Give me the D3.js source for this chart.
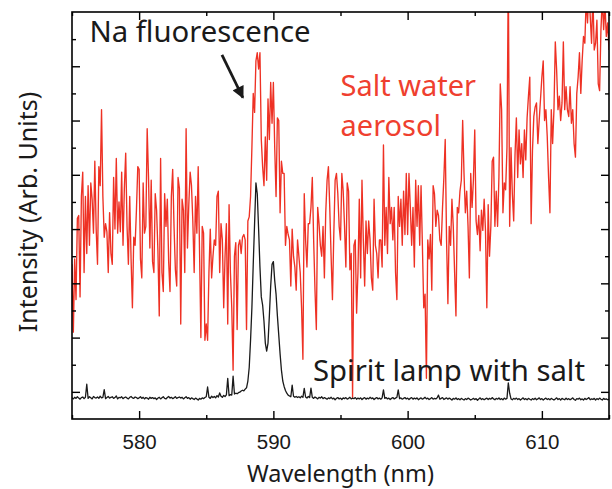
<!DOCTYPE html>
<html>
<head>
    <meta charset="UTF-8">
    <style>
        *{
            margin: 0;
            padding: 0;
        }
        body{
            background-color: #fff;
        }
        .frame {
            fill: none;
            stroke: #000;
            stroke-width: 1.6px;
        }
        .axis path {
            display: none;
        }
        .axis line {
            stroke: #000;
            stroke-width: 1.4px;
        }
        .axis text {
            font-family: "Liberation Sans", Arial, sans-serif;
            font-size: 20.5px;
            fill: #1a1a1a;
        }
        .label {
            font-family: "Noto Sans", sans-serif;
            fill: #1a1a1a;
        }
    </style>
    <script src="https://cdn.jsdelivr.net/npm/d3@7"></script>
    <title>Na fluorescence</title>
</head>

<body>
<svg id="chart" width="612" height="489"></svg>
<script>
    // wavelength sampling of both spectra (nm)
    var wlStart = 575, wlStep = 0.1;

    // salt water aerosol spectrum, one row per nm
    var aerosol = [
        5.7, 3.2, 5.9, 4.4, 7.4, 7.5, 4.5, 8.2, 9.1, 5.4,
        8.2, 6.1, 8.6, 6.4, 8.7, 8.1, 6.85, 9.5, 7.0, 5.7,
        9.3, 8.6, 11.4, 8.2, 6.7, 7.2, 6.9, 5.4, 7.6, 6.1,
        5.7, 8.9, 7.0, 9.6, 6.85, 8.0, 6.9, 9.1, 6.4, 8.5,
        9.8, 7.1, 5.7, 8.2, 5.9, 4.1, 6.7, 6.4, 7.7, 9.3,
        9.2, 5.9, 5.2, 8.7, 6.85, 7.1, 10.7, 8.9, 6.3, 8.8,
        5.8, 5.4, 8.3, 7.7, 6.2, 3.8, 9.6, 5.4, 4.7, 8.3,
        7.1, 8.1, 5.8, 4.7, 8.2, 9.2, 7.1, 5.5, 4.9, 8.9,
        8.5, 3.5, 8.1, 7.7, 5.4, 10.7, 6.3, 7.9, 9.1, 8.6,
        7.3, 5.4, 8.2, 6.85, 9.3, 6.2, 3.0, 7.1, 6.85, 2.9,
        3.5, 2.9, 5.4, 7.0, 5.2, 6.0, 6.6, 6.4, 8.2, 8.4,
        5.4, 7.2, 6.6, 4.1, 6.0, 7.2, 3.5, 7.9, 5.4, 4.1,
        1.8, 6.0, 6.5, 3.3, 6.4, 6.6, 6.1, 6.7, 6.8, 6.6,
        3.3, 7.3, 7.45, 8.2, 10.0, 12.0, 11.3, 13.2, 13.5, 12.9,
        13.5, 10.3, 9.3, 8.6, 10.4, 8.8, 11.8, 10.3, 12.4, 10.9,
        12.4, 10.0, 8.2, 11.1, 11.0, 7.6, 9.5, 9.05, 9.05, 6.4,
        7.1, 6.8, 6.6, 4.9, 7.0, 6.0, 5.6, 4.75, 6.6, 6.0,
        5.4, 4.1, 2.2, 8.3, 6.6, 5.6, 7.2, 7.2, 7.8, 8.9,
        6.6, 4.75, 3.3, 7.8, 7.2, 6.4, 6.0, 7.1, 5.2, 7.6,
        8.8, 9.3, 7.8, 6.0, 4.4, 6.8, 8.8, 9.05, 8.3, 7.1,
        6.6, 9.05, 8.4, 7.1, 5.6, 8.7, 8.4, 5.5, 6.1, 0.8,
        6.4, 6.6, 3.9, 5.4, 8.1, 5.2, 8.8, 6.6, 4.9, 7.3,
        6.1, 7.3, 6.6, 5.2, 4.75, 8.1, 6.4, 6.1, 5.2, 6.6,
        6.6, 5.6, 10.1, 6.4, 7.8, 6.1, 8.9, 7.2, 7.8, 6.6,
        7.8, 5.4, 4.4, 8.2, 7.1, 8.1, 6.4, 8.4, 6.8, 9.05,
        6.8, 9.05, 7.8, 6.4, 7.8, 5.6, 8.8, 7.1, 8.6, 6.4,
        8.6, 6.4, 4.1, 4.6, 1.5, 6.6, 5.9, 6.8, 4.75, 8.6,
        8.3, 7.1, 7.7, 7.5, 6.6, 6.4, 7.8, 8.9, 10.3, 6.6,
        4.25, 7.1, 6.4, 8.1, 7.1, 5.4, 3.8, 7.8, 7.6, 8.4,
        8.8, 11.0, 9.05, 7.6, 8.4, 7.1, 5.2, 9.05, 7.8, 8.8,
        10.65, 7.3, 6.8, 7.5, 6.2, 7.7, 6.95, 8.1, 6.95, 4.1,
        7.9, 6.0, 7.1, 9.5, 9.65, 7.1, 8.4, 7.1, 8.9, 12.35,
        11.4, 7.6, 8.7, 8.45, 10.0, 16.5, 7.1, 10.0, 8.3, 7.3,
        9.75, 11.1, 8.9, 10.65, 9.4, 10.15, 8.9, 10.65, 9.55, 11.1,
        11.9, 12.6, 7.2, 9.9, 11.15, 11.5, 11.65, 10.15, 11.0, 11.8,
        12.6, 13.2, 11.0, 11.4, 10.4, 8.9, 7.6, 11.4, 10.15, 11.4,
        13.9, 12.85, 11.4, 11.9, 11.0, 11.65, 13.9, 11.4, 12.25, 11.4,
        11.15, 12.25, 10.9, 11.4, 10.15, 9.65, 12.0, 12.6, 13.5, 12.0,
        13.2, 14.1, 13.85, 15.5, 14.6, 15.8, 14.85, 13.85, 15.6, 13.6,
        13.85, 14.7, 12.35, 12.1, 14.35, 15.5, 14.35, 15.3, 14.1, 14.6,
        13.6
    ];

    // spirit lamp with salt spectrum, one row per nm
    var lamp = [
        0.78, 0.74, 0.80, 0.76, 0.82, 0.77, 0.73, 0.79, 0.81, 0.75,
        0.80, 1.28, 0.76, 0.82, 0.78, 0.74, 0.83, 0.79, 0.77, 0.81,
        0.76, 0.84, 0.78, 0.80, 1.08, 0.75, 0.79, 0.83, 0.77, 0.80,
        0.82, 0.76, 0.79, 0.85, 0.74, 0.80, 0.78, 0.82, 0.75, 0.79,
        0.81, 0.77, 0.74, 0.80, 0.83, 0.78, 0.76, 0.81, 0.79, 0.75,
        0.78, 0.82, 0.76, 0.80, 0.74, 0.79, 0.77, 0.73, 0.80, 0.76,
        0.79, 0.75, 0.78, 0.72, 0.77, 0.80, 0.74, 0.78, 0.82, 0.76,
        0.74, 0.79, 0.83, 0.77, 0.80, 0.75, 0.78, 0.82, 0.76, 0.79,
        0.81, 0.77, 0.80, 0.74, 0.78, 0.82, 0.76, 0.79, 0.73, 0.78,
        0.75, 0.72, 0.77, 0.74, 0.70, 0.76, 0.73, 0.78, 0.75, 0.79,
        0.82, 1.18, 0.80, 0.76, 0.84, 0.79, 0.83, 0.78, 0.86, 0.81,
        0.96, 0.84, 0.80, 0.87, 0.83, 0.89, 1.50, 0.86, 0.90, 0.88,
        1.58, 0.92, 0.95, 0.93, 0.97, 0.99, 1.03, 1.06, 1.04, 1.10,
        1.15, 1.40, 1.90, 2.90, 4.10, 5.70, 7.20, 8.70, 8.30, 7.00,
        5.60, 4.50, 4.20, 3.60, 2.80, 2.50, 2.80, 3.80, 4.90, 5.70,
        5.80, 5.10, 4.60, 3.80, 3.10, 2.40, 1.80, 1.40, 1.20, 1.05,
        0.95, 0.88, 0.85, 0.82, 1.25, 0.84, 0.80, 0.83, 0.79, 0.82,
        0.78, 0.84, 0.80, 1.13, 0.81, 0.77, 0.83, 0.79, 1.14, 0.80,
        0.76, 0.81, 0.78, 0.74, 0.80, 0.77, 0.82, 0.75, 0.79, 0.76,
        0.73, 0.78, 0.75, 0.80, 0.74, 0.77, 0.71, 0.76, 0.79, 0.74,
        0.77, 0.72, 0.78, 0.75, 0.79, 0.73, 0.76, 0.80, 0.74, 0.77,
        0.75, 0.79, 0.73, 0.77, 0.74, 0.78, 0.72, 0.76, 0.79, 0.73,
        0.77, 0.74, 0.80, 0.75, 0.78, 0.72, 0.76, 0.79, 0.74, 0.77,
        0.73, 0.78, 1.07, 0.76, 0.79, 0.74, 0.77, 0.72, 0.76, 0.79,
        0.74, 0.77, 0.80, 1.07, 0.75, 0.78, 0.73, 0.76, 0.79, 0.74,
        0.77, 0.72, 0.76, 0.79, 0.73, 0.77, 0.74, 0.78, 0.71, 0.75,
        0.78, 0.73, 0.76, 0.80, 0.74, 0.77, 0.72, 0.75, 0.79, 0.73,
        0.76, 0.74, 0.78, 0.88, 0.73, 0.76, 0.79, 0.72, 0.75, 0.78,
        0.73, 0.77, 0.74, 0.70, 0.76, 0.73, 0.78, 0.72, 0.75, 0.71,
        0.76, 0.73, 0.70, 0.75, 0.72, 0.77, 0.74, 0.70, 0.73, 0.76,
        0.72, 0.75, 0.69, 0.74, 0.78, 0.72, 0.75, 0.71, 0.74, 0.77,
        0.72, 0.76, 0.73, 0.79, 0.74, 0.71, 0.76, 0.73, 0.78, 0.72,
        0.75, 0.71, 0.77, 0.73, 0.76, 1.33, 0.95, 0.74, 0.71, 0.76,
        0.73, 0.77, 0.72, 0.75, 0.70, 0.74, 0.78, 0.72, 0.75, 0.71,
        0.76, 0.73, 0.70, 0.75, 0.72, 0.77, 0.71, 0.74, 0.78, 0.72,
        0.75, 0.70, 0.74, 0.77, 0.72, 0.75, 0.71, 0.76, 0.73, 0.70,
        0.74, 0.78, 0.72, 0.75, 0.70, 0.76, 0.73, 0.71, 0.77, 0.72,
        0.75, 0.71, 0.74, 0.78, 0.72, 0.69, 0.75, 0.73, 0.77, 0.71,
        0.74, 0.70, 0.76, 0.72, 0.75, 0.79, 0.71, 0.74, 0.72, 0.76,
        0.70, 0.75, 0.72, 0.77, 0.73, 0.70, 0.76, 0.72, 0.74, 0.71,
        0.73
    ];

    var xDomain = [575, 615];
    var yDomain = [0, 15];
    var xLabelTicks = [580, 590, 600, 610];
    var xMinorTicks = [575, 585, 595, 605, 615];
    var yMajorTicks = [1, 3, 5, 7, 9, 11, 13];
    var yMinorTicks = [2, 4, 6, 8, 10, 12, 14];

    var svg = d3.select("#chart"),
        margin = {top: 12, right: 3, bottom: 70, left: 72},
        width = +svg.attr("width") - margin.left - margin.right,
        height = +svg.attr("height") - margin.top - margin.bottom;

    var x = d3.scaleLinear().domain(xDomain).range([0, width]),
        y = d3.scaleLinear().domain(yDomain).range([height, 0]);

    var g = svg.append("g")
        .attr("transform", "translate(" + margin.left + "," + margin.top + ")");

    g.append("clipPath").attr("id", "plot-clip")
        .append("rect").attr("width", width).attr("height", height);

    var line = d3.line()
        .x(function(d, i) { return x(wlStart + i * wlStep); })
        .y(function(d) { return y(d); });

    var plot = g.append("g").attr("clip-path", "url(#plot-clip)");

    plot.append("path")
        .datum(aerosol)
        .attr("fill", "none")
        .attr("stroke", "#ee3124")
        .attr("stroke-width", 1.35)
        .attr("stroke-linejoin", "round")
        .attr("d", line);

    plot.append("path")
        .datum(lamp)
        .attr("fill", "none")
        .attr("stroke", "#1a1a1a")
        .attr("stroke-width", 1.3)
        .attr("stroke-linejoin", "round")
        .attr("d", line);

    // ticks point inwards on all four sides
    g.append("g").attr("class", "axis")
        .attr("transform", "translate(0," + height + ")")
        .call(d3.axisBottom(x).tickValues(xLabelTicks).tickSize(-8).tickPadding(15)
            .tickFormat(d3.format("d")));
    g.append("g").attr("class", "axis")
        .attr("transform", "translate(0," + height + ")")
        .call(d3.axisBottom(x).tickValues(xMinorTicks).tickSize(-4).tickFormat(""));
    g.append("g").attr("class", "axis")
        .call(d3.axisTop(x).tickValues(xLabelTicks).tickSize(-8).tickFormat(""));
    g.append("g").attr("class", "axis")
        .call(d3.axisTop(x).tickValues(xMinorTicks).tickSize(-4).tickFormat(""));

    g.append("g").attr("class", "axis")
        .call(d3.axisLeft(y).tickValues(yMajorTicks).tickSize(-8).tickFormat(""));
    g.append("g").attr("class", "axis")
        .call(d3.axisLeft(y).tickValues(yMinorTicks).tickSize(-4).tickFormat(""));
    g.append("g").attr("class", "axis")
        .attr("transform", "translate(" + width + ",0)")
        .call(d3.axisRight(y).tickValues(yMajorTicks).tickSize(-8).tickFormat(""));
    g.append("g").attr("class", "axis")
        .attr("transform", "translate(" + width + ",0)")
        .call(d3.axisRight(y).tickValues(yMinorTicks).tickSize(-4).tickFormat(""));

    g.append("rect").attr("class", "frame")
        .attr("width", width).attr("height", height);

    // axis titles
    svg.append("text").attr("class", "label")
        .attr("x", margin.left + width / 2).attr("y", 482)
        .attr("text-anchor", "middle")
        .attr("font-size", "23.4px")
        .text("Wavelength (nm)");

    svg.append("text").attr("class", "label")
        .attr("transform", "translate(37," + (margin.top + 200) + ") rotate(-90)")
        .attr("text-anchor", "middle")
        .attr("font-size", "25px")
        .text("Intensity (Arb. Units)");

    // annotations
    g.append("text").attr("class", "label")
        .attr("x", x(576.3)).attr("y", y(13.9))
        .attr("font-size", "29.3px")
        .text("Na fluorescence");

    g.append("text").attr("class", "label")
        .attr("x", x(595.0)).attr("y", y(11.9))
        .attr("font-size", "29px")
        .style("fill", "#ef3f2f")
        .text("Salt water");

    g.append("text").attr("class", "label")
        .attr("x", x(595.0)).attr("y", y(10.42))
        .attr("font-size", "29px")
        .style("fill", "#ef3f2f")
        .text("aerosol");

    g.append("text").attr("class", "label")
        .attr("x", x(592.95)).attr("y", y(1.4))
        .attr("font-size", "29.3px")
        .text("Spirit lamp with salt");

    var defs = svg.append("defs");
    defs.append("marker")
        .attr("id", "head")
        .attr("viewBox", "0 0 10 10")
        .attr("refX", 9).attr("refY", 5)
        .attr("markerWidth", 5).attr("markerHeight", 4.4)
        .attr("markerUnits", "strokeWidth")
        .attr("orient", "auto")
        .append("path")
        .attr("d", "M0,0L10,5L0,10Z")
        .attr("fill", "#1a1a1a");

    g.append("line")
        .attr("x1", x(586.17)).attr("y1", y(13.42))
        .attr("x2", x(587.73)).attr("y2", y(11.84))
        .attr("stroke", "#1a1a1a")
        .attr("stroke-width", 2.8)
        .attr("marker-end", "url(#head)");
</script>
</body>
</html>
